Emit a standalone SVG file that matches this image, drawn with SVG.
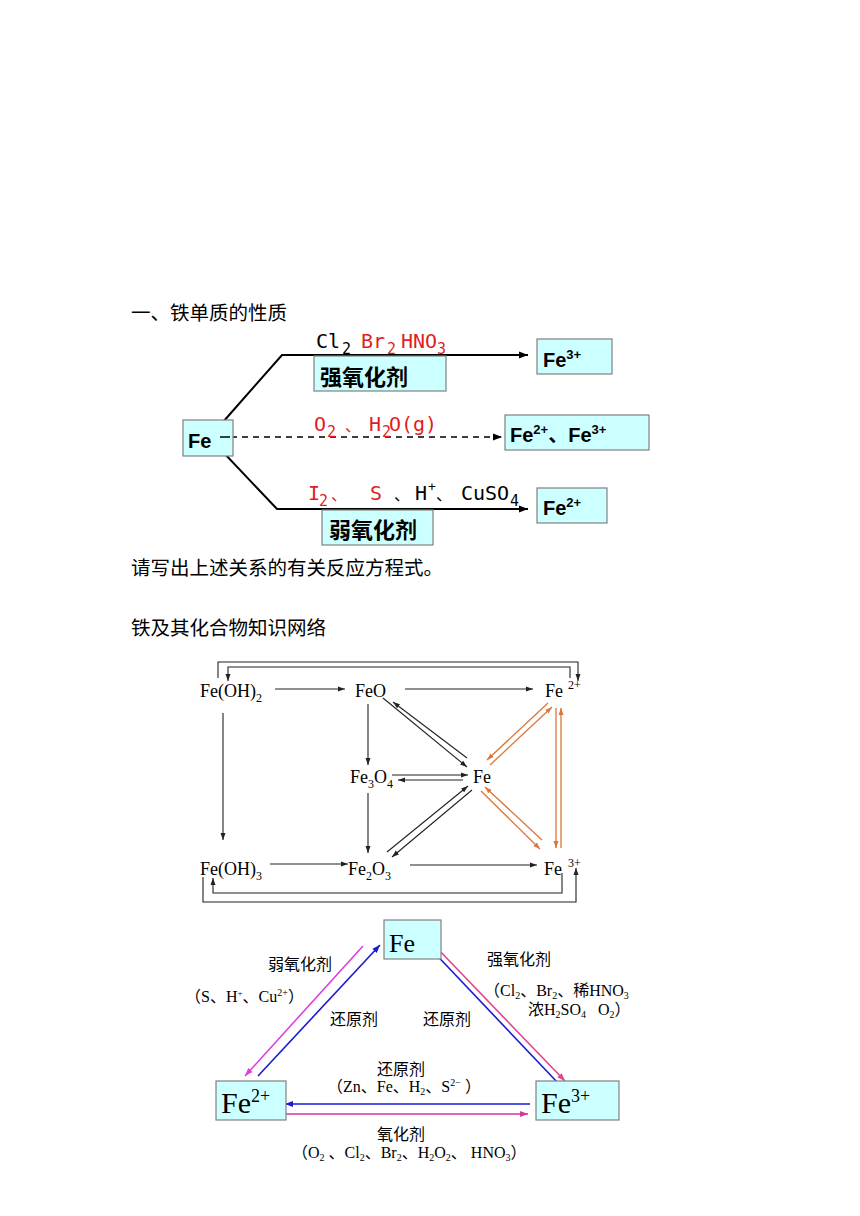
<svg xmlns="http://www.w3.org/2000/svg" width="860" height="1216" viewBox="0 0 860 1216">
<style>
.bg{fill:#ffffff}
.box{fill:#ccffff;stroke:#808080;stroke-width:1.2}
.h{font-family:"Noto Sans CJK SC","Liberation Sans",sans-serif;font-size:19.5px;fill:#000}
.bt{font-family:"Liberation Sans","Noto Sans CJK SC",sans-serif;font-weight:bold;font-size:20px;fill:#000}
.bc{font-family:"Noto Sans CJK SC",sans-serif;font-weight:bold;font-size:22px;fill:#000}
.mono{font-family:"DejaVu Sans Mono","Liberation Mono",monospace;font-size:20px}
.msub{font-family:"DejaVu Sans Mono","Liberation Mono",monospace;font-size:15px}
.msup{font-family:"DejaVu Sans Mono","Liberation Mono",monospace;font-size:13px}
.dun{font-family:"Noto Sans CJK SC",sans-serif;font-size:16px}
.red{fill:#e01e1e}
.blk{fill:#000}
.ln{stroke:#000;stroke-width:2;fill:none}
.ser{font-family:"Liberation Serif","Noto Sans CJK SC",serif;font-size:18px;fill:#000}
.sers{font-family:"Liberation Serif",serif;font-size:12px;fill:#000}
.nl{stroke:#222;stroke-width:1.1;fill:none}
.or{stroke:#d9773a;stroke-width:1.3;fill:none}
.tl{font-family:"Noto Sans CJK SC",sans-serif;font-size:16px;fill:#000}
.tp{font-family:"Liberation Serif","Noto Sans CJK SC",serif;font-size:16px;fill:#000}
.tf{font-family:"Liberation Serif",serif;fill:#000}
.bl{stroke:#1a1ad0;stroke-width:1.6;fill:none}
.mg{stroke:#dd3fdd;stroke-width:1.6;fill:none}
.pk{stroke:#e0458c;stroke-width:1.6;fill:none}
.pb{stroke:#d9339f;stroke-width:1.6;fill:none}
</style>
<defs>
<marker id="ak" markerUnits="userSpaceOnUse" markerWidth="10" markerHeight="8" refX="9" refY="4" orient="auto"><path d="M0,0.5 L9,4 L0,7.5 z" fill="#000"/></marker>
<marker id="an" markerUnits="userSpaceOnUse" markerWidth="8" markerHeight="6" refX="7" refY="3" orient="auto"><path d="M0,0.5 L7,3 L0,5.5 z" fill="#222"/></marker>
<marker id="ao" markerUnits="userSpaceOnUse" markerWidth="8" markerHeight="6" refX="7" refY="3" orient="auto"><path d="M0,0.5 L7,3 L0,5.5 z" fill="#d9773a"/></marker>
<marker id="ab" markerUnits="userSpaceOnUse" markerWidth="9" markerHeight="7" refX="8" refY="3.5" orient="auto"><path d="M0,0.5 L8,3.5 L0,6.5 z" fill="#1a1ad0"/></marker>
<marker id="am" markerUnits="userSpaceOnUse" markerWidth="9" markerHeight="7" refX="8" refY="3.5" orient="auto"><path d="M0,0.5 L8,3.5 L0,6.5 z" fill="#dd3fdd"/></marker>
<marker id="ap" markerUnits="userSpaceOnUse" markerWidth="9" markerHeight="7" refX="8" refY="3.5" orient="auto"><path d="M0,0.5 L8,3.5 L0,6.5 z" fill="#e0458c"/></marker>
<marker id="apb" markerUnits="userSpaceOnUse" markerWidth="9" markerHeight="7" refX="8" refY="3.5" orient="auto"><path d="M0,0.5 L8,3.5 L0,6.5 z" fill="#d9339f"/></marker>
</defs>
<rect class="bg" x="0" y="0" width="860" height="1216"/>

<!-- headings -->
<g id="headings">
<text class="h" x="131" y="320">一、铁单质的性质</text>
<text class="h" x="131" y="575">请写出上述关系的有关反应方程式。</text>
<text class="h" x="131" y="635">铁及其化合物知识网络</text>
</g>

<!-- Section 1 connectors -->
<g id="s1-connectors">
<path class="ln" d="M223,422 L282,355 L528,355" marker-end="url(#ak)"/>
<path class="ln" d="M223,452 L277,509 L528,509" marker-end="url(#ak)"/>
<path d="M220,437 L502,437" stroke="#000" stroke-width="1.5" stroke-dasharray="6 5" fill="none" marker-end="url(#ak)"/>
</g>

<g id="s1-fe">
<rect class="box" x="183" y="420" width="50" height="36"/>
<text class="bt" x="188" y="448">Fe</text>
</g>
<path d="M220,437 L230,437" stroke="#000" stroke-width="1.5"/>
<g id="s1-fe3">
<rect class="box" x="537" y="339" width="75" height="35"/>
<text class="bt" x="543" y="367">Fe<tspan font-size="13" dy="-8">3+</tspan></text>
</g>
<g id="s1-fe23">
<rect class="box" x="505" y="415" width="144" height="35"/>
<text class="bt" x="510" y="442">Fe<tspan font-size="13" dy="-8">2+</tspan><tspan dy="8">、Fe</tspan><tspan font-size="13" dy="-8">3+</tspan></text>
</g>
<g id="s1-fe2">
<rect class="box" x="537" y="488" width="70" height="35"/>
<text class="bt" x="543" y="515">Fe<tspan font-size="13" dy="-8">2+</tspan></text>
</g>
<g id="s1-strong">
<rect class="box" x="314" y="356" width="132" height="35"/>
<text class="bc" x="320" y="385">强氧化剂</text>
</g>
<g id="s1-weak">
<rect class="box" x="322" y="510" width="111" height="35"/>
<text class="bc" x="329" y="538">弱氧化剂</text>
</g>
<g id="s1-labels">
<text class="mono blk" x="316" y="348">Cl</text>
<text class="msub blk" x="342" y="354">2</text>
<text class="mono red" x="361" y="348">Br</text>
<text class="msub red" x="387" y="354">2</text>
<text class="mono red" x="401" y="348">HNO</text>
<text class="msub red" x="437" y="354">3</text>

<text class="mono red" x="314" y="431">O</text>
<text class="msub red" x="327" y="437">2</text>
<text class="dun red" x="345" y="431">、</text>
<text class="mono red" x="369" y="431">H</text>
<text class="msub red" x="382" y="437">2</text>
<text class="mono red" x="389" y="431">O(g)</text>

<text class="mono red" x="308" y="500">I</text>
<text class="msub red" x="319" y="506">2</text>
<text class="dun red" x="331" y="500">、</text>
<text class="mono red" x="370" y="500">S</text>
<text class="dun blk" x="394" y="500">、</text>
<text class="mono blk" x="415" y="500">H</text>
<text class="msup blk" x="428" y="491">+</text>
<text class="dun blk" x="436" y="500">、</text>
<text class="mono blk" x="461" y="500">CuSO</text>
<text class="msub blk" x="510" y="506">4</text>
</g>

<!-- Section 2 network -->
<g id="n-connectors">
<path class="nl" d="M275,689 L345,689" marker-end="url(#an)"/>
<path class="nl" d="M405,689 L533,689" marker-end="url(#an)"/>
<path class="nl" d="M223,713 L223,840" marker-end="url(#an)"/>
<path class="nl" d="M368,704 L368,765" marker-end="url(#an)"/>
<path class="nl" d="M368,793 L368,853" marker-end="url(#an)"/>
<path class="nl" d="M270,864 L348,864" marker-end="url(#an)"/>
<path class="nl" d="M410,865 L537,865" marker-end="url(#an)"/>
<path class="nl" d="M392,775 L468,775" marker-end="url(#an)"/>
<path class="nl" d="M463,780 L398,780" marker-end="url(#an)"/>
<path class="nl" d="M383,698 L467,767" marker-end="url(#an)"/>
<path class="nl" d="M467,758 L393,702" marker-end="url(#an)"/>
<path class="nl" d="M387,852 L468,786" marker-end="url(#an)"/>
<path class="nl" d="M472,790 L392,857" marker-end="url(#an)"/>
<path class="or" d="M548,703 L487,760" marker-end="url(#ao)"/>
<path class="or" d="M490,765 L552,707" marker-end="url(#ao)"/>
<path class="or" d="M542,840 L485,787" marker-end="url(#ao)"/>
<path class="or" d="M481,791 L540,849" marker-end="url(#ao)"/>
<path class="or" d="M556,708 L556,848" marker-end="url(#ao)"/>
<path class="or" d="M561,848 L561,708" marker-end="url(#ao)"/>
<path class="nl" d="M218,678 V662 H578 V681" marker-end="url(#an)"/>
<path class="nl" d="M570,678 V667 H228 V681" marker-end="url(#an)"/>
<path class="nl" d="M562,873 V893 H213 V878" marker-end="url(#an)"/>
<path class="nl" d="M203,877 V902 H576 V868" marker-end="url(#an)"/>
</g>
<g id="n-feoh2"><text class="ser" x="200" y="697">Fe(OH)<tspan font-size="12" dy="5">2</tspan></text></g>
<g id="n-feo"><text class="ser" x="355" y="697">FeO</text></g>
<g id="n-fe2"><text class="ser" x="545" y="697">Fe</text><text class="sers" x="568" y="689">2+</text></g>
<g id="n-fe3o4"><text class="ser" x="350" y="783">Fe<tspan font-size="12" dy="5">3</tspan><tspan dy="-5">O</tspan><tspan font-size="12" dy="5">4</tspan></text></g>
<g id="n-fe"><text class="ser" x="473" y="783">Fe</text></g>
<g id="n-feoh3"><text class="ser" x="200" y="875">Fe(OH)<tspan font-size="12" dy="5">3</tspan></text></g>
<g id="n-fe2o3"><text class="ser" x="348" y="875">Fe<tspan font-size="12" dy="5">2</tspan><tspan dy="-5">O</tspan><tspan font-size="12" dy="5">3</tspan></text></g>
<g id="n-fe3"><text class="ser" x="544" y="875">Fe</text><text class="sers" x="568" y="867">3+</text></g>

<!-- Section 3 triangle -->
<g id="t-connectors">
<path class="mg" d="M363,946 L245,1076" marker-end="url(#am)"/>
<path class="bl" d="M258,1076 L380,945" marker-end="url(#ab)"/>
<path class="bl" d="M558,1083 L428,946" marker-end="url(#ab)"/>
<path class="pk" d="M435,946 L565,1081" marker-end="url(#ap)"/>
<path class="bl" d="M530,1104 L285,1104" marker-end="url(#ab)"/>
<path class="pb" d="M283,1114 L528,1114" marker-end="url(#apb)"/>
</g>
<g id="t-fe">
<rect class="box" x="384" y="920" width="57" height="39"/>
<text class="tf" x="389" y="952" font-size="26">Fe</text>
</g>
<g id="t-fe2">
<rect class="box" x="216" y="1081" width="70" height="39"/>
<text class="tf" x="221" y="1113" font-size="30">Fe<tspan font-size="18" dy="-11">2+</tspan></text>
</g>
<g id="t-fe3">
<rect class="box" x="536" y="1081" width="83" height="39"/>
<text class="tf" x="541" y="1113" font-size="30">Fe<tspan font-size="18" dy="-11">3+</tspan></text>
</g>
<g id="t-labels">
<text class="tl" x="268" y="970">弱氧化剂</text>
<text class="tp" x="185" y="1002">（S、H<tspan font-size="9" dy="-6">+</tspan><tspan dy="6">、Cu</tspan><tspan font-size="10" dy="-6">2+</tspan><tspan dy="6">）</tspan></text>
<text class="tl" x="330" y="1025">还原剂</text>
<text class="tl" x="423" y="1025">还原剂</text>
<text class="tl" x="487" y="965">强氧化剂</text>
<text class="tp" x="484" y="996">（Cl<tspan font-size="10" dy="3">2</tspan><tspan dy="-3">、Br</tspan><tspan font-size="10" dy="3">2</tspan><tspan dy="-3">、稀HNO</tspan><tspan font-size="10" dy="3">3</tspan></text>
<text class="tp" x="528" y="1015">浓H<tspan font-size="10" dy="3">2</tspan><tspan dy="-3">SO</tspan><tspan font-size="10" dy="3">4</tspan><tspan dy="-3" xml:space="preserve">   O</tspan><tspan font-size="10" dy="3">2</tspan><tspan dy="-3">）</tspan></text>
<text class="tl" x="377" y="1075">还原剂</text>
<text class="tp" x="327" y="1092">（Zn、Fe、H<tspan font-size="10" dy="3">2</tspan><tspan dy="-3">、S</tspan><tspan font-size="10" dy="-6">2−</tspan><tspan dy="6" xml:space="preserve"> ）</tspan></text>
<text class="tl" x="377" y="1140">氧化剂</text>
<text class="tp" x="292" y="1158">（O<tspan font-size="10" dy="3">2</tspan><tspan dy="-3" xml:space="preserve"> 、Cl</tspan><tspan font-size="10" dy="3">2</tspan><tspan dy="-3">、Br</tspan><tspan font-size="10" dy="3">2</tspan><tspan dy="-3">、H</tspan><tspan font-size="10" dy="3">2</tspan><tspan dy="-3">O</tspan><tspan font-size="10" dy="3">2</tspan><tspan dy="-3" xml:space="preserve">、 HNO</tspan><tspan font-size="10" dy="3">3</tspan><tspan dy="-3">）</tspan></text>
</g>
</svg>
